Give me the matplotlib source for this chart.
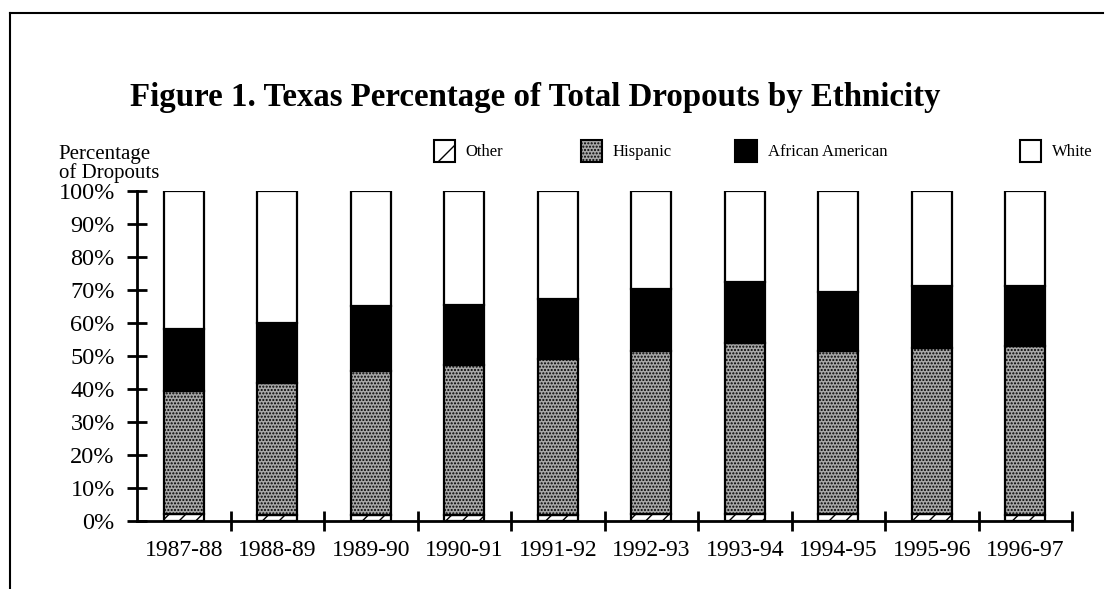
import matplotlib.pyplot as plt
import numpy as np
from matplotlib.patches import Rectangle

plt.rcParams['font.family'] = ['Liberation Serif', 'DejaVu Serif']
plt.rcParams['hatch.linewidth'] = 1.0

years = ['1987-88', '1988-89', '1989-90', '1990-91', '1991-92',
         '1992-93', '1993-94', '1994-95', '1995-96', '1996-97']
other = [2.0, 1.8, 1.8, 1.8, 1.9, 2.0, 2.0, 2.0, 2.0, 1.8]
hispanic = [37.5, 40.0, 43.6, 45.6, 47.1, 49.4, 51.8, 49.6, 50.5, 51.3]
african_american = [18.6, 18.3, 19.8, 18.0, 18.4, 19.0, 18.6, 17.9, 18.8, 18.2]
white = [41.9, 39.9, 34.8, 34.6, 32.6, 29.6, 27.6, 30.5, 28.7, 28.7]
series = ['Other', 'Hispanic', 'African American', 'White']
yticks = np.arange(0, 101, 10)

styles = {
    'Other': dict(facecolor='white', hatch='//'),
    'Hispanic': dict(facecolor='#a8a8a8', hatch='.....'),
    'African American': dict(facecolor='black', hatch=None),
    'White': dict(facecolor='white', hatch=None),
}

fig = plt.figure(figsize=(11.06, 5.89), dpi=100)
ax = fig.add_axes([0.1239, 0.1154, 0.8454, 0.5603])

x = np.arange(len(years))
bottom = np.zeros(len(years))
for name, vals in zip(series, [other, hispanic, african_american, white]):
    st = styles[name]
    ax.bar(x, vals, width=0.43, bottom=bottom, facecolor=st['facecolor'],
           hatch=st['hatch'], edgecolor='black', linewidth=1.6)
    bottom += np.array(vals)

ax.set_xlim(-0.5, len(years) - 0.5)
ax.set_ylim(0, 100)
for s in ['top', 'right']:
    ax.spines[s].set_visible(False)
for s in ['left', 'bottom']:
    ax.spines[s].set_linewidth(2)

ax.set_yticks(yticks)
ax.set_yticklabels([f'{v}%' for v in yticks], fontsize=17.5)
ax.tick_params(axis='y', direction='inout', length=14, width=2, pad=9)
ax.set_xticks(x)
ax.set_xticklabels(years, fontsize=17)
ax.tick_params(axis='x', which='major', length=0, pad=14)
ax.set_xticks(np.arange(0.5, len(years)), minor=True)
ax.tick_params(axis='x', which='minor', direction='inout', length=14, width=2)

fig.text(0.484, 0.835, 'Figure 1. Texas Percentage of Total Dropouts by Ethnicity',
         ha='center', va='center', fontsize=23.7, fontweight='bold')
fig.text(0.053, 0.722, 'Percentage\nof Dropouts', ha='left', va='center',
         fontsize=15, linespacing=0.95)

# legend drawn by hand
leg_x = [0.392, 0.525, 0.665, 0.922]
for name, lx in zip(series, leg_x):
    st = styles[name]
    fig.patches.append(Rectangle((lx, 0.725), 0.019, 0.038, transform=fig.transFigure,
                                 facecolor=st['facecolor'], hatch='/' if name == 'Other' else st['hatch'],
                                 edgecolor='black', linewidth=1.5))
    fig.text(lx + 0.029, 0.742, name, ha='left', va='center', fontsize=12)

# outer frame
fig.add_artist(plt.Line2D([0.009, 0.009], [0.0, 0.978], color='black', lw=1.5))
fig.add_artist(plt.Line2D([0.009, 0.997], [0.978, 0.978], color='black', lw=1.5))

fig.savefig('out.png', dpi=100)
